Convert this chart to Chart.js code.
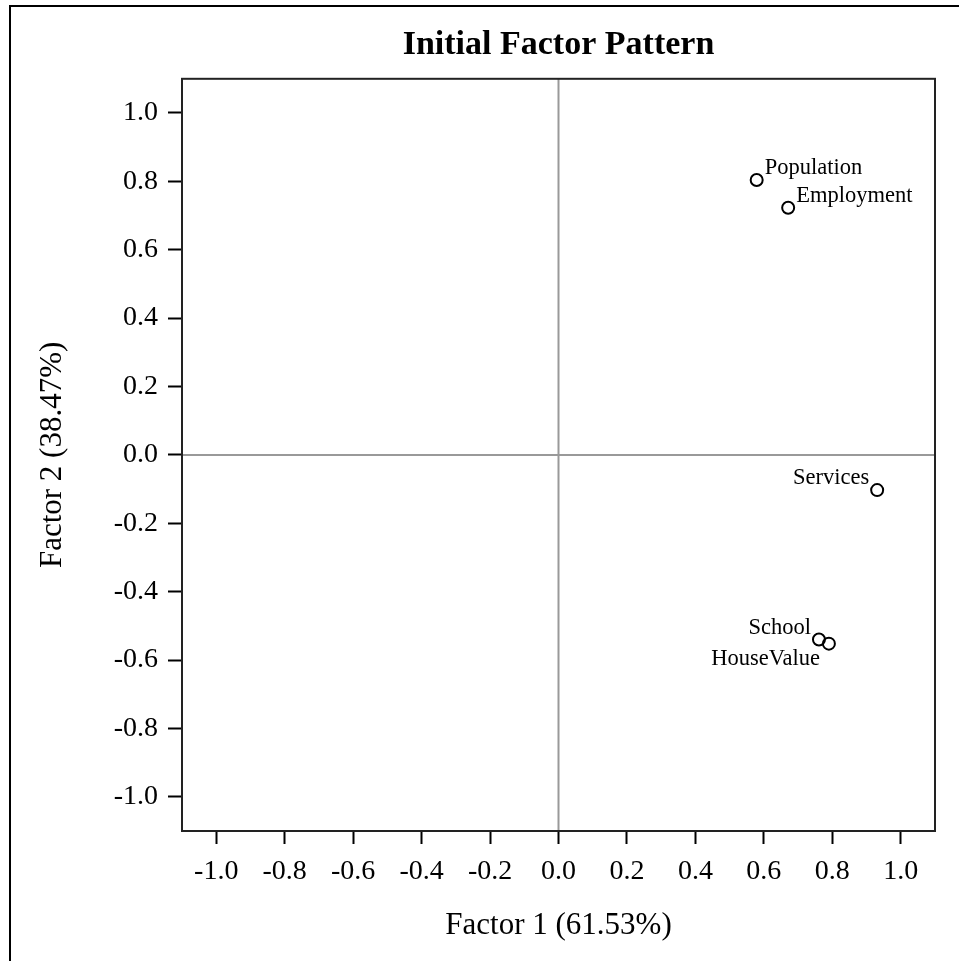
<!DOCTYPE html>
<html>
<head>
<meta charset="utf-8">
<title>Initial Factor Pattern</title>
<script src="https://cdn.jsdelivr.net/npm/chart.js@4.4.1/dist/chart.umd.min.js"></script>
<style>
  html, body { margin: 0; padding: 0; background: #fff; }
  #wrap { width: 959px; height: 961px; }
</style>
</head>
<body>
<div id="wrap"><canvas id="chart" width="959" height="961"></canvas></div>
<script>
// factor loadings
const variables = ["Population", "Employment", "Services", "School", "HouseValue"];
const factor1 = [0.579, 0.671, 0.931, 0.761, 0.790];
const factor2 = [0.804, 0.723, -0.103, -0.540, -0.552];
const tickValues = [-1.0, -0.8, -0.6, -0.4, -0.2, 0.0, 0.2, 0.4, 0.6, 0.8, 1.0];

// where each label sits relative to its marker
const labelSide = {
  Population: "upRight",
  Employment: "upRight",
  Services: "upLeft",
  School: "upLeft",
  HouseValue: "downLeft"
};

const serif = "'Liberation Serif', 'Times New Roman', serif";

const points = variables.map((name, i) => ({ x: factor1[i], y: factor2[i], name: name }));

// outer frame, plot frame, zero reference lines
const framePlugin = {
  id: "frames",
  beforeDatasetsDraw(chart) {
    const { ctx, chartArea, scales } = chart;
    ctx.save();
    ctx.strokeStyle = "#999";
    ctx.lineWidth = 2;
    const x0 = scales.x.getPixelForValue(0);
    const y0 = scales.y.getPixelForValue(0);
    ctx.beginPath();
    ctx.moveTo(x0, chartArea.top);
    ctx.lineTo(x0, chartArea.bottom);
    ctx.moveTo(chartArea.left, y0);
    ctx.lineTo(chartArea.right, y0);
    ctx.stroke();
    ctx.restore();
  },
  afterDraw(chart) {
    const { ctx, chartArea } = chart;
    ctx.save();
    ctx.strokeStyle = "#222";
    ctx.lineWidth = 2;
    ctx.strokeRect(chartArea.left, chartArea.top,
      chartArea.right - chartArea.left, chartArea.bottom - chartArea.top);
    ctx.strokeStyle = "#000";
    ctx.strokeRect(10, 6, 3000, 3000);
    ctx.restore();
  }
};

// variable names next to the markers
const labelPlugin = {
  id: "pointNames",
  afterDatasetsDraw(chart) {
    const { ctx } = chart;
    const meta = chart.getDatasetMeta(0);
    ctx.save();
    ctx.font = "22.5px " + serif;
    ctx.fillStyle = "#000";
    ctx.textBaseline = "alphabetic";
    meta.data.forEach((pt, i) => {
      const side = labelSide[variables[i]];
      let tx = pt.x, ty = pt.y;
      if (side === "upRight") { ctx.textAlign = "left"; tx += 8; ty -= 6; }
      else if (side === "upLeft") { ctx.textAlign = "right"; tx -= 8; ty -= 6; }
      else { ctx.textAlign = "right"; tx -= 9; ty += 21; }
      ctx.fillText(variables[i], tx, ty);
    });
    ctx.restore();
  }
};

const tickFont = { family: serif, size: 28 };

new Chart(document.getElementById("chart"), {
  type: "scatter",
  data: {
    datasets: [{
      data: points,
      pointRadius: 6,
      pointHoverRadius: 6,
      pointBorderWidth: 2,
      pointBorderColor: "#000",
      pointBackgroundColor: "rgba(0,0,0,0)"
    }]
  },
  options: {
    responsive: false,
    animation: false,
    layout: { padding: { right: 24, left: 0, top: 0, bottom: 0 } },
    plugins: {
      legend: { display: false },
      tooltip: { enabled: false },
      title: {
        display: true,
        text: "Initial Factor Pattern",
        fullSize: false,
        color: "#000",
        font: { family: serif, size: 34, weight: "bold", lineHeight: 1.2 },
        padding: { top: 25, bottom: 13 }
      }
    },
    scales: {
      x: {
        type: "linear",
        min: -1.1,
        max: 1.1,
        afterBuildTicks: s => { s.ticks = tickValues.map(v => ({ value: v })); },
        afterFit: s => { s.height = 130; },
        ticks: {
          color: "#000",
          font: tickFont,
          padding: 11,
          maxRotation: 0,
          autoSkip: false,
          callback: v => v.toFixed(1)
        },
        grid: { drawOnChartArea: false, drawTicks: true, tickLength: 13, tickWidth: 2, tickColor: "#000" },
        border: { display: true, color: "#222", width: 2 },
        title: {
          display: true,
          text: "Factor 1 (61.53%)",
          color: "#000",
          font: { family: serif, size: 31, lineHeight: 1.2 },
          padding: { top: 0, bottom: 17 }
        }
      },
      y: {
        type: "linear",
        min: -1.1,
        max: 1.1,
        afterBuildTicks: s => { s.ticks = tickValues.map(v => ({ value: v })); },
        afterFit: s => { s.width = 182; },
        ticks: {
          color: "#000",
          font: tickFont,
          padding: 10,
          autoSkip: false,
          callback: v => v.toFixed(1)
        },
        grid: { drawOnChartArea: false, drawTicks: true, tickLength: 14, tickWidth: 2, tickColor: "#000" },
        border: { display: true, color: "#222", width: 2 },
        title: {
          display: true,
          text: "Factor 2 (38.47%)",
          color: "#000",
          font: { family: serif, size: 31, lineHeight: 1.2 },
          padding: { top: 34, bottom: 0 }
        }
      }
    }
  },
  plugins: [framePlugin, labelPlugin]
});
</script>
</body>
</html>
